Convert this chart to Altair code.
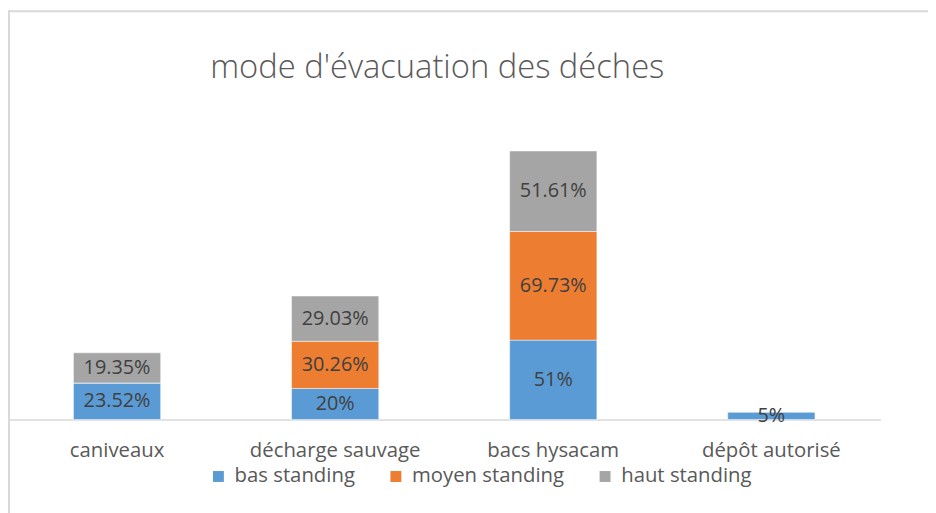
import altair as alt
import pandas as pd

title_text = "mode d'évacuation des déches"
categories = ["caniveaux", "décharge sauvage", "bacs hysacam", "dépôt autorisé"]
series = ["bas standing", "moyen standing", "haut standing"]
bas = [23.52, 20, 51, 5]
moyen = [0, 30.26, 69.73, 0]
haut = [19.35, 29.03, 51.61, 0]
colors = ["#5B9BD5", "#ED7D31", "#A5A5A5"]

rows = []
for i, c in enumerate(categories):
    for j, (s, vals) in enumerate(zip(series, [bas, moyen, haut])):
        rows.append({"category": c, "series": s, "ord": j, "value": vals[i]})
df = pd.DataFrame(rows)

FONT = "Open Sans"

base = alt.Chart(df).transform_stack(
    stack="value", groupby=["category"], as_=["v0", "v1"],
    sort=[alt.SortField("ord", order="ascending")]
).transform_calculate(
    mid="(datum.v0 + datum.v1) / 2",
    label="datum.value + '%'"
)

x_enc = alt.X(
    "category:N", sort=categories, title=None,
    scale=alt.Scale(paddingInner=0.6, paddingOuter=0.3),
    axis=alt.Axis(labelAngle=0, labelFont=FONT, labelFontSize=20.5, labelColor="#595959",
                  labelPadding=21, ticks=False, domainColor="#d9d9d9", domainWidth=1.5),
)
y_scale = alt.Scale(domain=[0, 180], nice=False)

bars = base.mark_bar(stroke="white", strokeWidth=0.5).encode(
    x=x_enc,
    y=alt.Y("v0:Q", scale=y_scale, axis=None),
    y2="v1:Q",
    color=alt.Color(
        "series:N", sort=series,
        scale=alt.Scale(domain=series, range=colors),
        legend=alt.Legend(
            title=None, orient="none", direction="horizontal",
            legendX=202, legendY=330, symbolType="square", symbolSize=121,
            symbolStrokeWidth=0, labelFont=FONT, labelFontSize=20.5, labelColor="#595959",
            labelOffset=6, columnPadding=31, padding=0,
        ),
    ),
)

texts = base.transform_filter("datum.value > 0").mark_text(
    font=FONT, fontSize=20, color="#404040", baseline="middle"
).encode(
    x=alt.X("category:N", sort=categories),
    y=alt.Y("mid:Q", scale=y_scale),
    text="label:N",
)

title = alt.Chart(alt.Data(values=[{"t": title_text}])).mark_text(
    font=FONT, fontSize=33, fontWeight=300, color="#595959", align="center", baseline="alphabetic"
).encode(x=alt.value(433), y=alt.value(-62), text="t:N")

frame_top = alt.Chart(alt.Data(values=[{}])).mark_rule(
    stroke="#d9d9d9", strokeWidth=2
).encode(x=alt.value(0), x2=alt.value(1000), y=alt.value(-129))

frame_left = alt.Chart(alt.Data(values=[{}])).mark_rule(
    stroke="#d9d9d9", strokeWidth=2
).encode(x=alt.value(1), y=alt.value(-130), y2=alt.value(600))

chart = alt.layer(frame_top, frame_left, title, bars, texts).properties(
    width=880, height=283,
    autosize=alt.AutoSizeParams(type="none"),
    padding={"left": 0, "top": 130, "right": 48, "bottom": 92},
).configure(background="white").configure_view(stroke="transparent", strokeWidth=0)

chart.save("out.html", embed_options={"renderer": "svg", "actions": False})
